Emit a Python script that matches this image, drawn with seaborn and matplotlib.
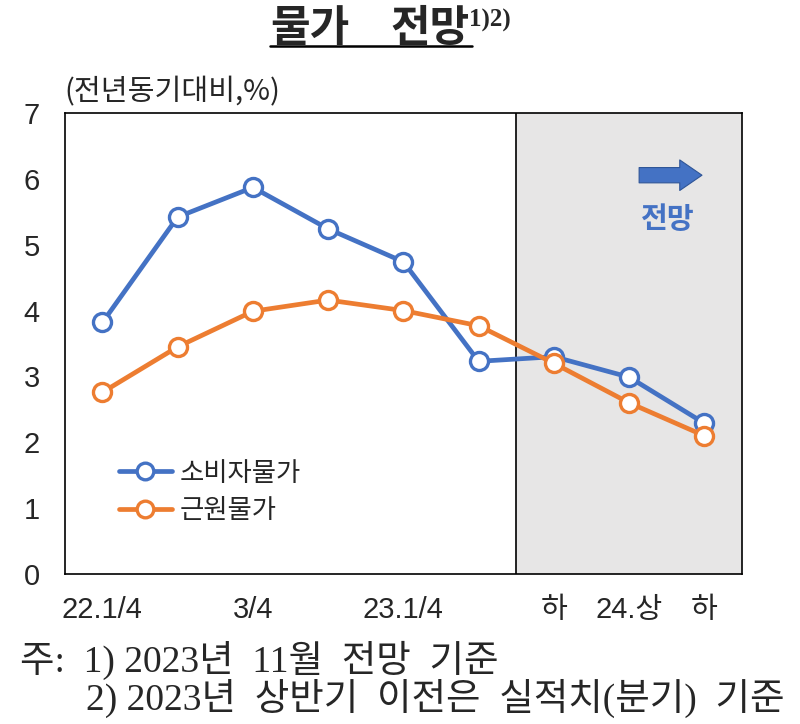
import pandas as pd
import matplotlib
matplotlib.use("Agg")
import matplotlib.pyplot as plt
import seaborn as sns
from matplotlib.lines import Line2D

# data (전년동기대비, %)
periods = ["22.1/4", "2/4", "3/4", "4/4", "23.1/4", "2/4", "하", "24.상", "하"]
cpi = [3.82, 5.42, 5.87, 5.24, 4.74, 3.23, 3.30, 2.99, 2.29]
core = [2.76, 3.45, 3.99, 4.16, 4.00, 3.77, 3.20, 2.60, 2.10]
tick_pos = [0, 2, 4, 6, 7, 8]
tick_labels = ["22.1/4", "3/4", "23.1/4", "하", "24.상", "하"]
series_names = ["소비자물가", "근원물가"]

df = pd.DataFrame({
    "x": list(range(len(periods))) * 2,
    "value": cpi + core,
    "series": [series_names[0]] * len(cpi) + [series_names[1]] * len(core),
})

sns.set_style("white")
plt.rcParams["font.family"] = ["Noto Sans CJK KR", "DejaVu Sans"]
sans_fam = ["Liberation Sans", "Noto Sans CJK KR"]
serif_fam = ["Liberation Serif", "Noto Sans CJK KR"]

blue = "#4472C4"
orange = "#ED7D31"

fig = plt.figure(figsize=(8, 7.24), dpi=100)
ax = fig.add_axes([0.081, 0.207, 0.8465, 0.637])

# forecast shading
ax.axvspan(5.5, 8.5, color="#E7E6E6", zorder=0)
ax.axvline(5.5, color="black", lw=1.2, zorder=1)

sns.lineplot(data=df, x="x", y="value", hue="series",
             palette={series_names[0]: blue, series_names[1]: orange},
             marker="o", markersize=13, markerfacecolor="white",
             markeredgewidth=2.4, linewidth=3.4, ax=ax, legend=False, zorder=3)
for line, c in zip(ax.lines[-2:], [blue, orange]):
    line.set_markeredgecolor(c)

ax.set_xlim(-0.5, 8.5)
ax.set_ylim(0, 7)
ax.set_yticks(range(0, 8))
ax.set_xticks([1.5, 3.5, 5.5, 7.5])
ax.set_xticklabels([])
ax.set_xticks(tick_pos, minor=True)
ax.set_xticklabels(tick_labels, minor=True)
ax.tick_params(axis="x", which="major", direction="in", length=7, width=1.2)
ax.tick_params(axis="x", which="minor", length=0, pad=16, labelsize=21)
ax.tick_params(axis="y", direction="in", length=7, width=1.2, pad=18, labelsize=21)
for lab in ax.get_xticklabels(minor=True) + ax.get_yticklabels():
    lab.set_family(sans_fam)
ax.set_xlabel("")
ax.set_ylabel("")
for s in ax.spines.values():
    s.set_visible(True)
    s.set_color("black")
    s.set_linewidth(1.2)

handles = [Line2D([], [], color=c, lw=3.4, marker="o", markersize=12,
                  markerfacecolor="white", markeredgecolor=c, markeredgewidth=2.4)
           for c in [blue, orange]]
ax.legend(handles, series_names, loc="upper left", bbox_to_anchor=(0.045, 0.3),
          frameon=False, fontsize=19, handlelength=2.0, labelspacing=0.4,
          handletextpad=0.3)

# forecast arrow and label
ax.annotate("", xy=(0.945, 0.865), xytext=(0.844, 0.865), xycoords="axes fraction",
            arrowprops=dict(arrowstyle="simple,head_length=0.8,head_width=1.1,tail_width=0.55",
                            mutation_scale=20, color=blue, ec="#2F5597", lw=0.8))
ax.text(0.89, 0.77, "전망", transform=ax.transAxes, ha="center", va="center",
        color=blue, fontsize=21, fontweight="semibold")

# unit label
fig.text(0.08, 0.872, "(전년동기대비,%)", fontsize=21, ha="left", va="center")

# title
fig.text(0.3375, 0.962, "물가", fontsize=31, fontweight="bold", ha="left", va="center")
fig.text(0.4875, 0.962, "전망", fontsize=31, fontweight="bold", ha="left", va="center")
fig.text(0.586, 0.972, "1)2)", fontsize=18, fontweight="bold", ha="left", va="center",
         family=serif_fam)
fig.add_artist(Line2D([0.3375, 0.59], [0.9365, 0.9365], color="black", lw=1.8))

# notes
fig.text(0.025, 0.088, "주:  1) 2023년  11월  전망  기준", fontsize=27, ha="left", va="center",
         family=serif_fam)
fig.text(0.108, 0.035, "2) 2023년  상반기  이전은  실적치(분기)  기준", fontsize=27, ha="left",
         va="center", family=serif_fam)

fig.savefig("out.png", dpi=100)
